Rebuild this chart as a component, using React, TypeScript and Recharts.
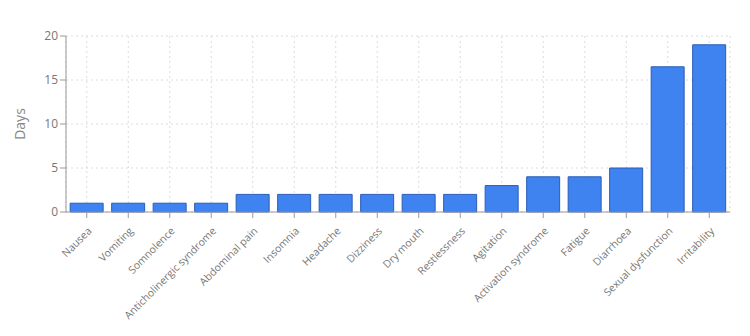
import React from 'react';
import { BarChart, Bar, XAxis, YAxis, CartesianGrid } from 'recharts';

const categories = ['Nausea', 'Vomiting', 'Somnolence', 'Anticholinergic syndrome', 'Abdominal pain', 'Insomnia', 'Headache', 'Dizziness', 'Dry mouth', 'Restlessness', 'Agitation', 'Activation syndrome', 'Fatigue', 'Diarrhoea', 'Sexual dysfunction', 'Irritability'];
const days = [1, 1, 1, 1, 2, 2, 2, 2, 2, 2, 3, 4, 4, 5, 16.5, 19];
const yTicks = [0, 5, 10, 15, 20];

const data = categories.map((c, i) => ({ name: c, days: days[i] }));

const FONT = "'Open Sans', 'Noto Sans', sans-serif";

const XTick = (props: any) => {
  const { x, y, payload } = props;
  return (
    <g transform={`translate(${x},${y + 6})`}>
      <text x={0} y={0} dy={8} textAnchor="end" fill="#777" fontSize={10.5} fontFamily={FONT} transform="rotate(-45)">
        {payload.value}
      </text>
    </g>
  );
};

export default function App() {
  return (
    <BarChart width={750} height={328} data={data} margin={{ top: 28, right: 28, left: 0, bottom: 0 }} barCategoryGap="10%">
      <CartesianGrid stroke="#dcdcdc" strokeDasharray="2 3" />
      <XAxis dataKey="name" interval={0} height={124} tick={<XTick />} stroke="#999" tickLine={{ stroke: '#999' }} />
      <YAxis domain={[0, 20]} ticks={yTicks} width={58} stroke="#999" tick={{ fill: '#777', fontSize: 12, fontFamily: FONT }}
        label={{ value: 'Days', angle: -90, position: 'insideLeft', offset: 12, fill: '#888', fontSize: 14, fontFamily: FONT, style: { textAnchor: 'middle' } }} />
      <YAxis yAxisId="r" orientation="right" domain={[0, 20]} width={0} tick={false} tickLine={false} axisLine={{ stroke: '#dcdcdc', strokeDasharray: '2 3' }} />
      <Bar dataKey="days" fill="#3f83f0" stroke="#2b5cb8" strokeWidth={1} isAnimationActive={false} />
    </BarChart>
  );
}
